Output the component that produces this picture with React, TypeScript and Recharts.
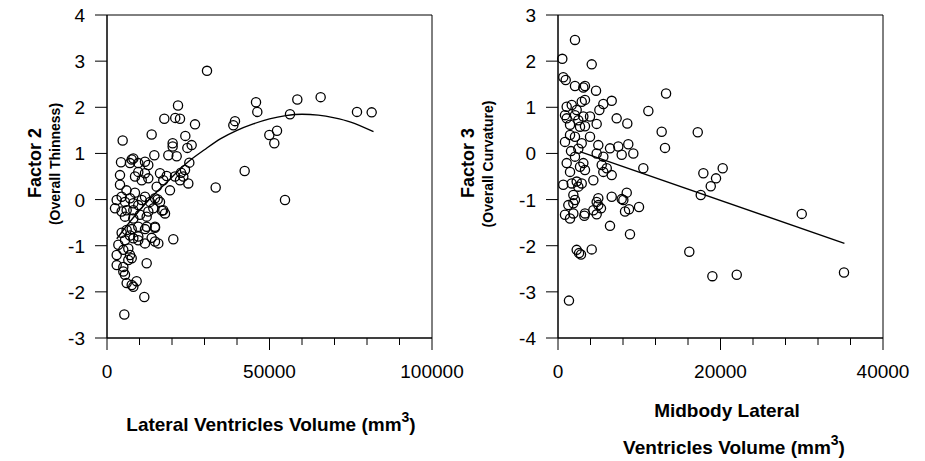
import { ScatterChart, Scatter, XAxis, YAxis, ReferenceArea, Label } from 'recharts';

const FONT = '"Liberation Sans", Arial, Helvetica, sans-serif';

// Left panel: lateral ventricles volume (mm3) vs Factor 2
const lvVolume = [
  30770, 21850, 17640, 21000, 22460, 27080, 13740, 4820, 24100, 20200, 20200, 26050, 24720, 18870, 21440, 14560, 4310, 25330,
  42360, 33440, 54770, 38870, 39380, 45850, 46250, 49950, 52310, 51480, 56310, 58560, 65740, 76920, 81440,
  7600, 8100, 9630, 11690, 12700, 7080, 4000, 9630, 11690, 12700, 10680, 8620,
  16310, 18370, 17320, 20920, 22770, 24000, 23480, 22460, 25020, 4000, 19380, 15290, 6000, 8600,
  2980, 2460, 4510, 5540, 7080, 8100, 6050, 8100, 9630, 10680, 11690, 13230, 14770, 16310, 17320, 17850,
  12210, 10150, 8100, 5540, 4510, 14250, 12710, 16920, 15600,
  12210, 14770, 9630, 4510, 7080, 9630, 13740, 20400,
  6050, 7600, 11690, 14770, 14770, 15790, 11690, 9630, 8100, 5540,
  3490, 2980, 5020, 6560, 7080, 6560, 2980, 5020, 7600, 12210, 5020, 5540, 6050, 7600, 9120, 8100, 11480, 5330,
];
const lvFactor2 = [
  2.79, 2.04, 1.75, 1.77, 1.75, 1.63, 1.41, 1.28, 1.38, 1.22, 1.15, 1.18, 1.12, 0.96, 0.94, 0.96, 0.81, 0.8,
  0.62, 0.26, -0.01, 1.61, 1.7, 2.11, 1.9, 1.4, 1.49, 1.22, 1.85, 2.17, 2.22, 1.9, 1.89,
  0.87, 0.89, 0.79, 0.82, 0.75, 0.79, 0.53, 0.6, 0.57, 0.46, 0.42, 0.5,
  0.57, 0.51, 0.42, 0.5, 0.58, 0.64, 0.5, 0.42, 0.35, 0.32, 0.2, 0.28, 0.2, 0.15,
  -0.01, -0.19, 0.06, -0.05, 0.03, -0.08, -0.23, -0.23, -0.12, -0.01, 0.06, -0.05, 0.03, -0.05, -0.23, -0.3,
  -0.37, -0.33, -0.41, -0.37, -0.26, -0.19, -0.26, -0.24, 0.0,
  -0.59, -0.59, -0.59, -0.72, -0.78, -0.8, -0.83, -0.86,
  -0.66, -0.64, -0.64, -0.61, -0.91, -0.95, -0.95, -0.88, -0.84, -0.88,
  -0.98, -1.2, -1.09, -1.06, -1.2, -1.31, -1.42, -1.46, -1.27, -1.38, -1.56, -1.63, -1.81, -1.85, -1.77, -1.89, -2.11, -2.49,
];
// fitted curve
const lvFitVolume = [3000, 8000, 13000, 18000, 25000, 30000, 35000, 40000, 45000, 50000, 55000, 60000, 65000, 70000, 75000, 82000];
const lvFitFactor2 = [-0.85, -0.4, 0.0, 0.35, 0.82, 1.08, 1.32, 1.5, 1.64, 1.75, 1.82, 1.85, 1.83, 1.77, 1.68, 1.47];

// Right panel: midbody lateral ventricles volume (mm3) vs Factor 3
const mbVolume = [
  2090, 530, 4150, 650, 950, 2090, 3120, 3320, 4680, 13300,
  6610, 5580, 5090, 11120,
  1070, 1690, 2300, 2920, 3320, 860, 1070, 2090, 2500, 3120, 3940, 1480, 2710, 3320,
  7220, 8530, 4760, 12760, 17200, 13170,
  860, 1480, 2090, 2920, 3940, 4960, 6400, 7420, 8650, 9270, 7840, 4760, 5580, 1600, 2500,
  1070, 1480, 2090, 2710, 3120, 3320, 4350, 5380, 6000, 5580, 6610, 10500,
  17890, 19450, 20270, 18800, 17570,
  650, 1690, 2300, 2920, 2500, 4960, 6610, 8460, 7840, 1890,
  30000, 19000, 22000, 35200,
  1350, 2590, 2300, 4150,
  860, 1480, 1890, 3320, 4350, 4760, 1890, 2090,
  1270, 4960, 5290, 4760, 8040, 8250, 8740, 9970, 6400, 8860, 2830, 16160, 3240,
];
const mbFactor3 = [
  2.46, 2.05, 1.93, 1.65, 1.59, 1.46, 1.43, 1.46, 1.36, 1.3,
  1.14, 1.07, 0.94, 0.92,
  1.01, 1.05, 0.94, 1.12, 1.16, 0.83, 0.76, 0.83, 0.72, 0.8, 0.8, 0.62, 0.58, 0.59,
  0.76, 0.65, 0.64, 0.47, 0.46, 0.12,
  0.25, 0.4, 0.36, 0.22, 0.36, 0.18, 0.11, 0.15, 0.2, 0.0, -0.03, 0.0, -0.07, 0.05, 0.1,
  -0.21, -0.4, -0.07, -0.29, -0.21, -0.36, -0.58, -0.25, -0.32, -0.4, -0.47, -0.32,
  -0.43, -0.54, -0.32, -0.71, -0.9,
  -0.68, -0.65, -0.61, -0.65, -0.72, -0.97, -0.94, -0.85, -0.99, -0.9,
  -1.31, -2.66, -2.63, -2.58,
  -3.19, -2.16, -2.09, -2.08,
  -1.33, -1.41, -1.3, -1.3, -1.23, -1.05, -1.08, -1.01,
  -1.12, -1.12, -1.19, -1.32, -1.01, -1.26, -1.21, -1.16, -1.57, -1.75, -2.19, -2.13, -1.35,
];
const mbFitVolume = [2700, 35250];
const mbFitFactor3 = [0.04, -1.95];

const lvXTicks = [0, 10000, 20000, 30000, 40000, 50000, 60000, 70000, 80000, 90000, 100000];
const lvXLabels = [0, 50000, 100000];
const lvYTicks = [-3, -2, -1, 0, 1, 2, 3, 4];
const mbXTicks = [0, 4000, 8000, 12000, 16000, 20000, 24000, 28000, 32000, 36000, 40000];
const mbXLabels = [0, 20000, 40000];
const mbYTicks = [-4, -3, -2, -1, 0, 1, 2, 3];

const zip = (xs: number[], ys: number[]) => xs.map((x, i) => ({ x, y: ys[i] }));

const lvPoints = zip(lvVolume, lvFactor2);
const lvFit = zip(lvFitVolume, lvFitFactor2);
const mbPoints = zip(mbVolume, mbFactor3);
const mbFit = zip(mbFitVolume, mbFitFactor3);

const Ring = (props: any) => (
  <circle cx={props.cx} cy={props.cy} r={4.6} fill="none" stroke="#000" strokeWidth={1.3} />
);
const NoDot = () => <g />;

const makeXTick = (labels: number[]) => (props: any) => {
  const { x, y, payload } = props;
  const major = labels.includes(payload.value);
  return (
    <g>
      <line x1={x} y1={y} x2={x} y2={y + (major ? 12 : 7)} stroke="#000" />
      {major && (
        <text x={x} y={y + 40} textAnchor="middle" fontSize={19} fontFamily={FONT} fill="#000">
          {payload.value}
        </text>
      )}
    </g>
  );
};

const YTick = (props: any) => {
  const { x, y, payload } = props;
  return (
    <g>
      <line x1={x - 12} y1={y} x2={x} y2={y} stroke="#000" />
      <text x={x - 22} y={y + 7} textAnchor="end" fontSize={19} fontFamily={FONT} fill="#000">
        {payload.value}
      </text>
    </g>
  );
};

const yTitle = (title: string, sub: string, x: number) => () => (
  <g fontFamily={FONT} fontWeight="bold" fill="#000">
    <text x={x} y={163} transform={`rotate(-90 ${x} 163)`} textAnchor="middle" dominantBaseline="central" fontSize={18}>
      {title}
    </text>
    <text x={x + 20} y={164} transform={`rotate(-90 ${x + 20} 164)`} textAnchor="middle" dominantBaseline="central" fontSize={14}>
      {sub}
    </text>
  </g>
);

const Mm3 = () => (
  <>
    {' (mm'}
    <tspan dy={-9} fontSize={14}>3</tspan>
    <tspan dy={9}>)</tspan>
  </>
);

const lvXTitle = () => (
  <text x={271} y={431} textAnchor="middle" fontFamily={FONT} fontWeight="bold" fontSize={19} fill="#000">
    Lateral Ventricles Volume<Mm3 />
  </text>
);

const mbXTitle = () => (
  <g fontFamily={FONT} fontWeight="bold" fontSize={19} fill="#000">
    <text x={727} y={417} textAnchor="middle">Midbody Lateral</text>
    <text x={734} y={454} textAnchor="middle">
      Ventricles Volume<Mm3 />
    </text>
  </g>
);

const layer: React.CSSProperties = { position: 'absolute', left: 0, top: 0 };

export default function App() {
  return (
    <div style={{ position: 'absolute', left: 0, top: 0, width: 925, height: 461, background: '#fff' }}>
      <div style={layer}>
        <ScatterChart width={925} height={461} margin={{ top: 15, right: 493, bottom: 122, left: 106 }}>
          <XAxis
            type="number"
            dataKey="x"
            domain={[0, 100000]}
            ticks={lvXTicks}
            interval={0}
            tick={makeXTick(lvXLabels)}
            tickLine={false}
            tickSize={0}
            tickMargin={0}
            height={1}
            axisLine={{ stroke: '#000' }}
          >
            <Label content={lvXTitle} />
          </XAxis>
          <YAxis
            type="number"
            dataKey="y"
            domain={[-3, 4]}
            ticks={lvYTicks}
            interval={0}
            tick={YTick}
            tickLine={false}
            tickSize={0}
            tickMargin={0}
            width={1}
            axisLine={{ stroke: '#000' }}
          >
            <Label content={yTitle('Factor 2', '(Overall Thinness)', 35)} />
          </YAxis>
          <ReferenceArea x1={0} x2={100000} y1={-3} y2={4} fill="none" stroke="#000" strokeWidth={1} />
          <Scatter data={lvPoints} shape={Ring} isAnimationActive={false} />
          <Scatter
            data={lvFit}
            shape={NoDot}
            line={{ stroke: '#000', strokeWidth: 1.4 }}
            lineJointType="monotoneX"
            isAnimationActive={false}
          />
        </ScatterChart>
      </div>
      <div style={layer}>
        <ScatterChart width={925} height={461} margin={{ top: 15, right: 42, bottom: 122, left: 557 }}>
          <XAxis
            type="number"
            dataKey="x"
            domain={[0, 40000]}
            ticks={mbXTicks}
            interval={0}
            tick={makeXTick(mbXLabels)}
            tickLine={false}
            tickSize={0}
            tickMargin={0}
            height={1}
            axisLine={{ stroke: '#000' }}
          >
            <Label content={mbXTitle} />
          </XAxis>
          <YAxis
            type="number"
            dataKey="y"
            domain={[-4, 3]}
            ticks={mbYTicks}
            interval={0}
            tick={YTick}
            tickLine={false}
            tickSize={0}
            tickMargin={0}
            width={1}
            axisLine={{ stroke: '#000' }}
          >
            <Label content={yTitle('Factor 3', '(Overall Curvature)', 468)} />
          </YAxis>
          <ReferenceArea x1={0} x2={40000} y1={-4} y2={3} fill="none" stroke="#000" strokeWidth={1} />
          <Scatter data={mbPoints} shape={Ring} isAnimationActive={false} />
          <Scatter
            data={mbFit}
            shape={NoDot}
            line={{ stroke: '#000', strokeWidth: 1.4 }}
            isAnimationActive={false}
          />
        </ScatterChart>
      </div>
    </div>
  );
}
